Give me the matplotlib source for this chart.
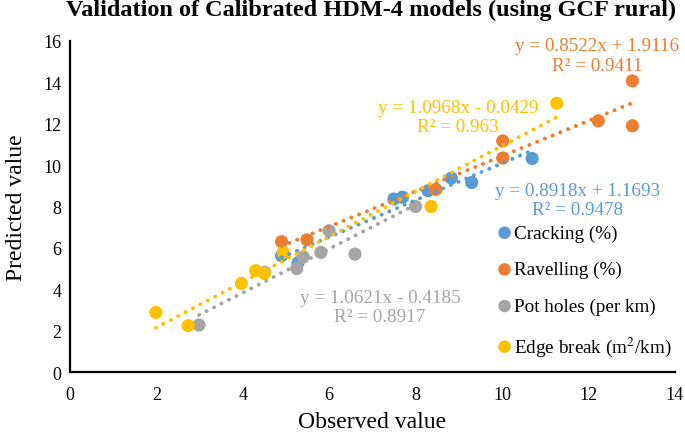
import matplotlib
matplotlib.use("Agg")
import matplotlib.pyplot as plt
import numpy as np

plt.rcParams['font.family'] = ['Liberation Serif', 'DejaVu Serif']
plt.rcParams['mathtext.fontset'] = 'stix'

# ---- data ----
series_names = ["Cracking (%)", "Ravelling (%)", "Pot holes (per km)", "Edge break (m$^{2}$/km)"]
series_colors = ["#5B9BD5", "#ED7D31", "#A5A5A5", "#FFC000"]

cracking_obs = [4.90, 5.28, 7.50, 7.70, 8.29, 8.83, 9.30, 10.70]
cracking_pred = [5.62, 5.28, 8.36, 8.45, 8.76, 9.37, 9.16, 10.32]

ravelling_obs = [4.90, 5.49, 8.47, 10.02, 10.02, 12.23, 13.02, 13.02]
ravelling_pred = [6.30, 6.39, 8.83, 10.34, 11.17, 12.14, 11.90, 14.07]

potholes_obs = [2.99, 4.51, 5.25, 5.40, 5.81, 6.00, 6.60, 8.00]
potholes_pred = [2.27, 4.82, 5.00, 5.56, 5.78, 6.83, 5.70, 8.00]

edge_obs = [1.99, 2.74, 3.97, 4.30, 4.50, 4.94, 8.36, 11.27]
edge_pred = [2.88, 2.24, 4.28, 4.90, 4.77, 5.78, 8.00, 12.99]

# trendline coefficients as printed on the chart
slopes = [0.8918, 0.8522, 1.0621, 1.0968]
intercepts = [1.1693, 1.9116, -0.4185, -0.0429]
eq_labels = ["y = 0.8918x + 1.1693\nR² = 0.9478",
             "y = 0.8522x + 1.9116\nR² = 0.9411",
             "y = 1.0621x - 0.4185\nR² = 0.8917",
             "y = 1.0968x - 0.0429\nR² = 0.963"]
eq_pos = [(11.76, 8.31), (12.20, 15.29), (7.18, 3.14), (8.98, 12.32)]

x_ticks = [0, 2, 4, 6, 8, 10, 12, 14]
y_ticks = [0, 2, 4, 6, 8, 10, 12, 14, 16]

obs_all = [cracking_obs, ravelling_obs, potholes_obs, edge_obs]
pred_all = [cracking_pred, ravelling_pred, potholes_pred, edge_pred]

fig = plt.figure(figsize=(6.85, 4.35), dpi=100)
ax = fig.add_axes([0.102, 0.1425, 0.883, 0.761])

handles = []
for i in range(4):
    h = ax.scatter(obs_all[i], pred_all[i], s=90, color=series_colors[i],
                   edgecolors='none', zorder=3 + i, label=series_names[i])
    handles.append(h)

for i in range(4):
    xs = np.array([min(obs_all[i]), max(obs_all[i])])
    ys = slopes[i] * xs + intercepts[i]
    ax.plot(xs, ys, color=series_colors[i], linewidth=2.8,
            linestyle=(0, (0.05, 2.1)), dash_capstyle='round', zorder=8)

for i in range(4):
    ax.text(eq_pos[i][0], eq_pos[i][1], eq_labels[i], color=series_colors[i],
            fontsize=13.8, ha='center', va='center', linespacing=1.2, zorder=10)

ax.set_xlim(0, 14)
ax.set_ylim(0, 16)
ax.set_xticks(x_ticks)
ax.set_yticks(y_ticks)
ax.tick_params(length=0, labelsize=13)
ax.tick_params(axis='x', pad=10)
ax.tick_params(axis='y', pad=6)
for s in ['top', 'right']:
    ax.spines[s].set_visible(False)
for s in ['left', 'bottom']:
    ax.spines[s].set_linewidth(1.6)
    ax.spines[s].set_color('black')

ax.set_xlabel("Observed value", fontsize=17, labelpad=6)
ax.set_ylabel("Predicted value", fontsize=17, labelpad=12)
fig.suptitle("Validation of Calibrated HDM-4 models (using GCF rural)",
             fontsize=17.5, fontweight='bold', x=0.542, y=1.0, va='top')

leg = ax.legend(handles=handles, loc='lower right', bbox_to_anchor=(1.008, 0.02),
                frameon=False, fontsize=13.8, labelspacing=1.0,
                handletextpad=0.0, handlelength=1.0, markerscale=0.95,
                borderaxespad=0.0)

fig.savefig("out.png", dpi=100)
